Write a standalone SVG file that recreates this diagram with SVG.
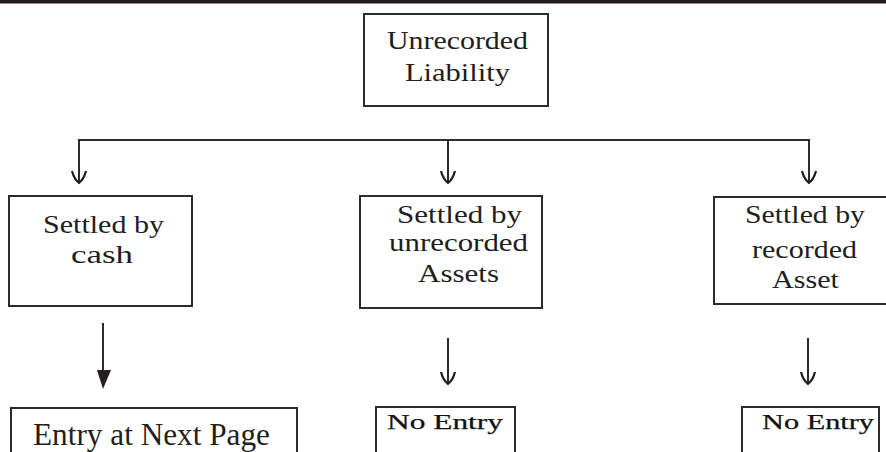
<svg xmlns="http://www.w3.org/2000/svg" width="886" height="452" viewBox="0 0 886 452">
<style>
.box{fill:#fff;stroke:#2b2b2b;stroke-width:2}
.t{font-family:"Liberation Serif","DejaVu Serif",serif;font-size:26px;fill:#1e1e1e}
.ne{font-family:"Liberation Serif","DejaVu Serif",serif;font-size:21px;fill:#111;stroke:#111;stroke-width:0.25}
.en{font-family:"Liberation Serif","DejaVu Serif",serif;font-size:31px;fill:#231f20}
.ln{fill:none;stroke:#2b2b2b;stroke-width:2}
.ah{fill:none;stroke:#1e1e1e;stroke-width:2.2;stroke-linejoin:round}
</style>
<rect x="0" y="0" width="886" height="3.5" fill="#231f20"/>
<g id="unrecorded-liability">
<rect class="box" x="364" y="14" width="184" height="92"/>
<text class="t" x="387" y="49" textLength="141" lengthAdjust="spacingAndGlyphs">Unrecorded</text>
<text class="t" x="405" y="81" textLength="105" lengthAdjust="spacingAndGlyphs">Liability</text>
</g>
<g id="settled-cash">
<rect class="box" x="9" y="196" width="183" height="110"/>
<text class="t" x="43" y="233" textLength="121" lengthAdjust="spacingAndGlyphs">Settled by</text>
<text class="t" x="71" y="263" textLength="62" lengthAdjust="spacingAndGlyphs">cash</text>
</g>
<g id="settled-unrecorded">
<rect class="box" x="360" y="196" width="182" height="112"/>
<text class="t" x="397" y="223" textLength="125" lengthAdjust="spacingAndGlyphs">Settled by</text>
<text class="t" x="389" y="251" textLength="139" lengthAdjust="spacingAndGlyphs">unrecorded</text>
<text class="t" x="418" y="282" textLength="81" lengthAdjust="spacingAndGlyphs">Assets</text>
</g>
<g id="settled-recorded">
<rect class="box" x="714" y="197" width="180" height="107"/>
<text class="t" x="745" y="223" textLength="120" lengthAdjust="spacingAndGlyphs">Settled by</text>
<text class="t" x="752" y="258" textLength="105" lengthAdjust="spacingAndGlyphs">recorded</text>
<text class="t" x="772" y="288" textLength="67" lengthAdjust="spacingAndGlyphs">Asset</text>
</g>
<g id="entry-next-page">
<rect class="box" x="11" y="408" width="286" height="60"/>
<text class="en" x="33" y="445" textLength="237" lengthAdjust="spacingAndGlyphs">Entry at Next Page</text>
</g>
<g id="no-entry-1">
<rect class="box" x="376" y="407" width="139" height="60"/>
<text class="ne" x="387" y="429" textLength="116" lengthAdjust="spacingAndGlyphs">No Entry</text>
</g>
<g id="no-entry-2">
<rect class="box" x="742" y="407" width="137" height="60"/>
<text class="ne" x="762" y="429" textLength="112" lengthAdjust="spacingAndGlyphs">No Entry</text>
</g>
<g id="connectors">
<path class="ln" d="M79,183 V140 H809 V183"/>
<path class="ln" d="M448,140 V183"/>
<path class="ah" d="M72,171 Q74,179 79,183 Q84,179 86,171"/>
<path class="ah" d="M441,171 Q443,179 448,183 Q453,179 455,171"/>
<path class="ah" d="M802,171 Q804,179 809,183 Q814,179 816,171"/>
<path class="ln" d="M448,338 V384"/>
<path class="ah" d="M441,372 Q443,380 448,384 Q453,380 455,372"/>
<path class="ln" d="M808,338 V384"/>
<path class="ah" d="M801,372 Q803,380 808,384 Q813,380 815,372"/>
<path class="ln" d="M103,323 V372"/>
<path d="M97,370 L111,370 L103,389 Z" fill="#231f20"/>
</g>
</svg>
